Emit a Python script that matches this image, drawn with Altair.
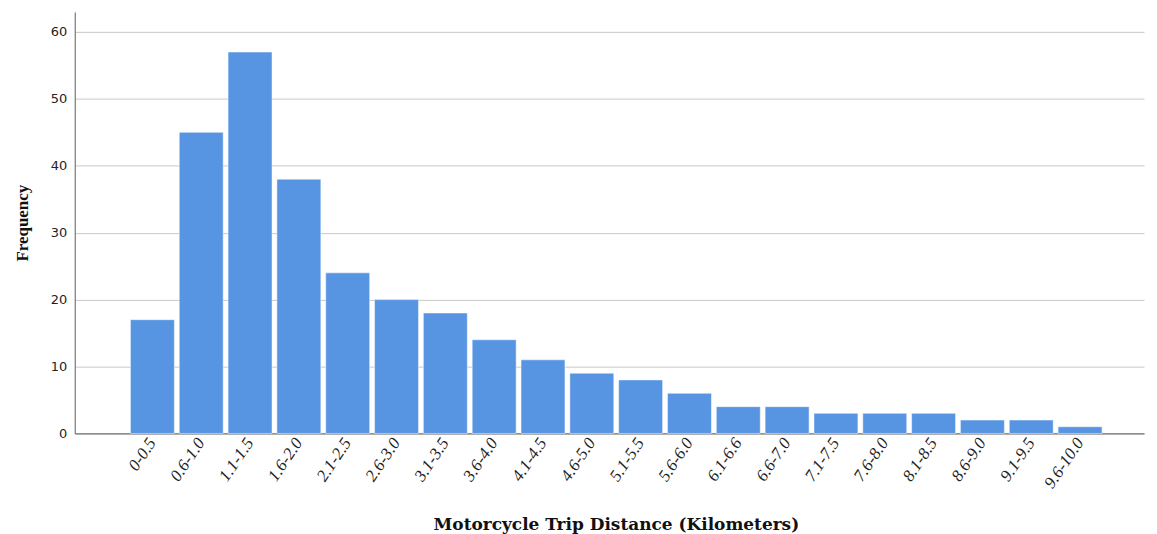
import altair as alt
import pandas as pd

categories = ["0-0.5", "0.6-1.0", "1.1-1.5", "1.6-2.0", "2.1-2.5", "2.6-3.0",
              "3.1-3.5", "3.6-4.0", "4.1-4.5", "4.6-5.0", "5.1-5.5", "5.6-6.0",
              "6.1-6.6", "6.6-7.0", "7.1-7.5", "7.6-8.0", "8.1-8.5", "8.6-9.0",
              "9.1-9.5", "9.6-10.0"]
frequency = [17, 45, 57, 38, 24, 20, 18, 14, 11, 9, 8, 6, 4, 4, 3, 3, 3, 2, 2, 1]
y_ticks = [0, 10, 20, 30, 40, 50, 60]

df = pd.DataFrame({"distance": categories, "freq": frequency})

chart = alt.Chart(df).mark_bar(
    color="#5795E3", stroke="#FFFFFF", strokeWidth=0.8, strokeOpacity=0.6
).encode(
    x=alt.X("distance:N", sort=categories,
            scale=alt.Scale(paddingInner=0.1, paddingOuter=1, align=0.57),
            axis=alt.Axis(title="Motorcycle Trip Distance (Kilometers)",
                          labelAngle=-56, labelFont="Liberation Serif",
                          labelFontStyle="italic", labelFontSize=17,
                          labelColor="#222222", ticks=False, labelPadding=6,
                          domainColor="#777777", domainWidth=1.2,
                          titleFont="DejaVu Serif", titleFontWeight="bold",
                          titleFontSize=17, titleColor="#111111",
                          titlePadding=26, titleX=543)),
    y=alt.Y("freq:Q", scale=alt.Scale(domain=[0, 63], nice=False),
            axis=alt.Axis(title="Frequency", values=y_ticks,
                          labelFont="DejaVu Sans", labelFontSize=13,
                          labelColor="#222222", ticks=False, labelPadding=8,
                          domainColor="#777777", domainWidth=1.2,
                          gridColor="#C8C8C8", gridWidth=1,
                          titleFont="Liberation Serif", titleFontWeight="bold",
                          titleFontSize=17, titleColor="#111111",
                          titlePadding=19)),
).properties(
    width=1073, height=423,
    padding={"left": 5, "top": 3, "right": 5, "bottom": 5}
).configure(
    background="white"
).configure_view(
    stroke=None
)

chart.save("out.html", embed_options={"renderer": "svg", "actions": False})
